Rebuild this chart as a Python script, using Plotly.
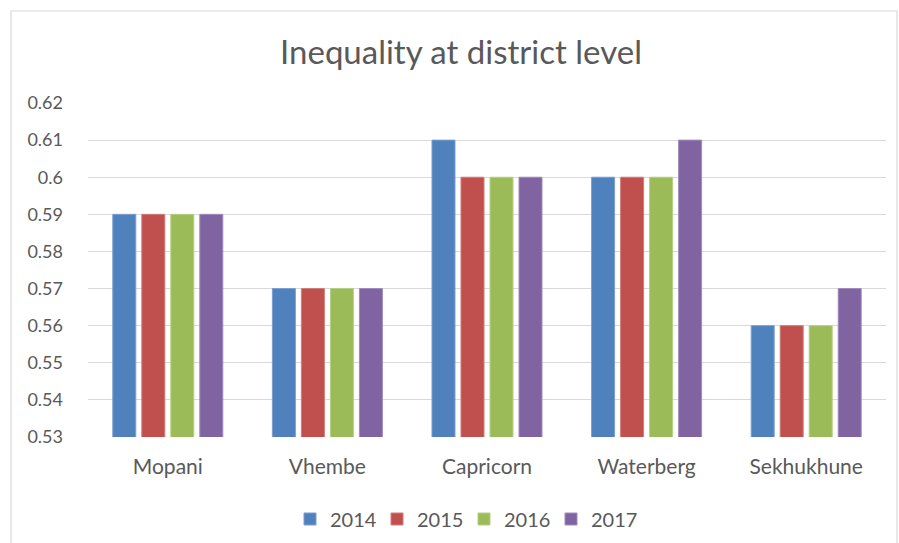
import plotly.graph_objects as go

# District inequality (Gini coefficient) by year
districts = ["Mopani", "Vhembe", "Capricorn", "Waterberg", "Sekhukhune"]
years = ["2014", "2015", "2016", "2017"]
gini_2014 = [0.59, 0.57, 0.61, 0.60, 0.56]
gini_2015 = [0.59, 0.57, 0.60, 0.60, 0.56]
gini_2016 = [0.59, 0.57, 0.60, 0.60, 0.56]
gini_2017 = [0.59, 0.57, 0.60, 0.61, 0.57]

tick_vals = [0.53, 0.54, 0.55, 0.56, 0.57, 0.58, 0.59, 0.60, 0.61, 0.62]
tick_text = ["0.53", "0.54", "0.55", "0.56", "0.57", "0.58", "0.59", "0.6", "0.61", "0.62"]

series = [gini_2014, gini_2015, gini_2016, gini_2017]
fills = ["#4F81BD", "#C0504D", "#9BBB59", "#8064A2"]
edges = ["#7A9FD0", "#D07C7A", "#B6CF86", "#A08BBD"]

FONT = "Lato"
GREY = "#595959"

fig = go.Figure()
for name, vals, fill, edge in zip(years, series, fills, edges):
    fig.add_trace(go.Bar(
        x=districts, y=vals, name=name,
        marker=dict(color=fill, line=dict(color=edge, width=1)),
    ))

W, H = 899, 543
ml, mr, mt, mb = 88, 13, 103, 106
pw, ph = W - ml - mr, H - mt - mb

def px_x(p):
    return (p - ml) / pw

def px_y(p):
    return (H - mb - p) / ph

fig.update_layout(
    width=W, height=H,
    margin=dict(l=ml, r=mr, t=mt, b=mb, autoexpand=False),
    paper_bgcolor="white", plot_bgcolor="white",
    barmode="group", bargap=0.273, bargroupgap=0.207,
    font=dict(family=FONT, color=GREY),
    title=dict(text="Inequality at district level", x=461 / W, xref="container",
               xanchor="center", y=1 - 52 / H, yanchor="middle",
               font=dict(family=FONT, size=33, color=GREY)),
    xaxis=dict(showgrid=False, showline=False, ticks="", ticklabelstandoff=15,
               tickfont=dict(family=FONT, size=21, color=GREY)),
    yaxis=dict(range=[0.53, 0.62], tickvals=tick_vals, ticktext=tick_text,
               showgrid=True, gridcolor="#D9D9D9", gridwidth=1,
               zeroline=False, showline=False, ticks="", ticklabelstandoff=24,
               tickfont=dict(family=FONT, size=18, color=GREY)),
    legend=dict(orientation="h", x=px_x(464), xanchor="center",
                y=px_y(519), yanchor="middle",
                font=dict(family=FONT, size=20, color=GREY),
                itemwidth=30, entrywidth=42, entrywidthmode="pixels",
                traceorder="normal"),
    shapes=[dict(type="rect", xref="paper", yref="paper",
                 x0=px_x(11), x1=px_x(897), y0=px_y(560), y1=px_y(11),
                 line=dict(color="#D9D9D9", width=1.2), layer="below")],
)

fig.write_html("out.html")
